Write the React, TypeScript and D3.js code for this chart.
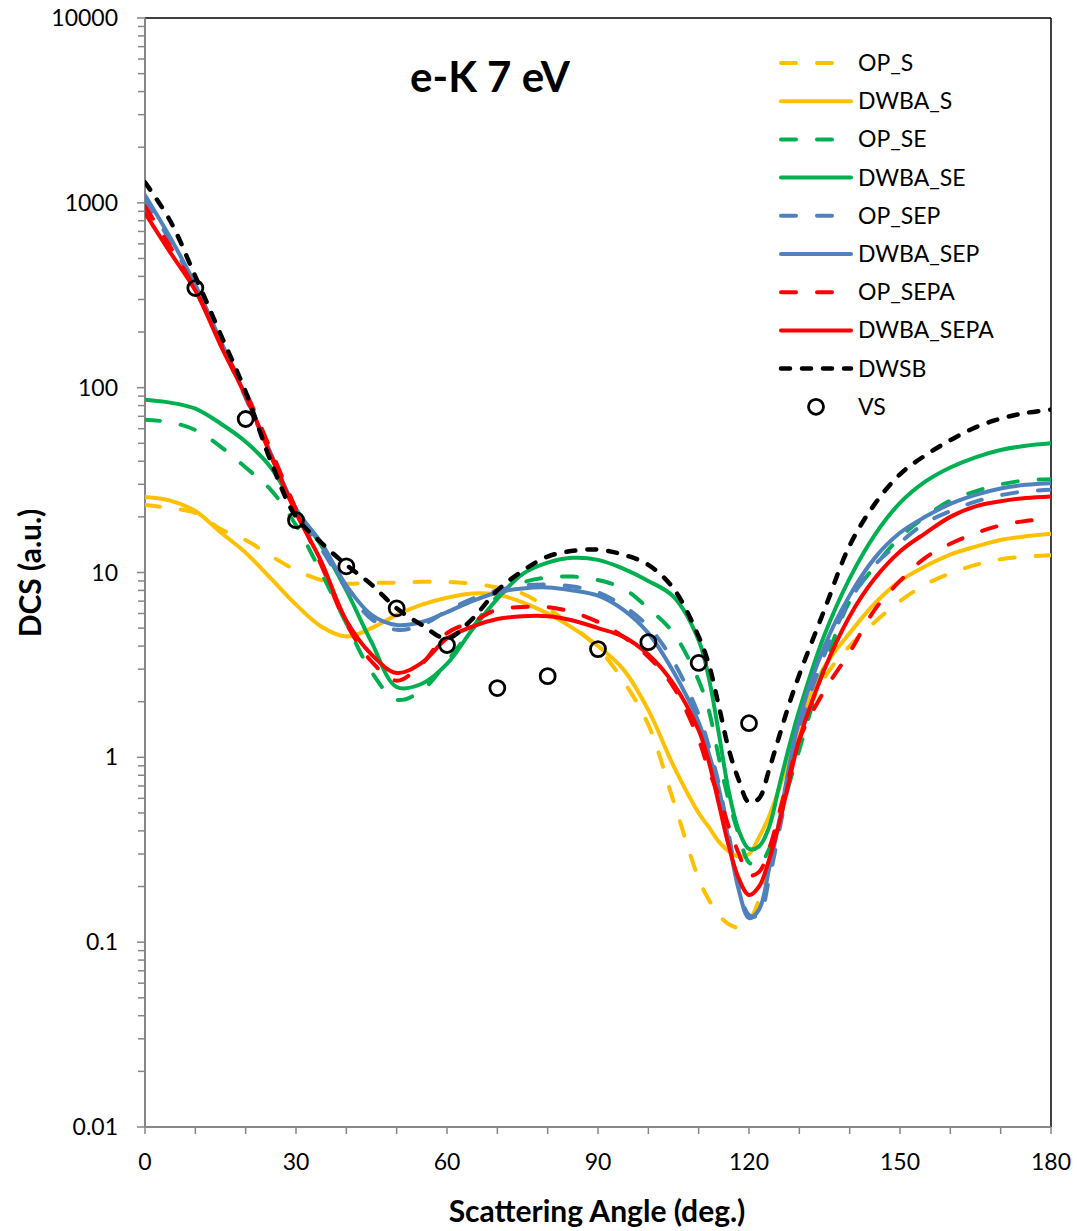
import React from 'react';
import * as d3 from 'd3';

const angles = [0, 5, 10, 15, 20, 25, 30, 35, 40, 45, 50, 55, 60, 65, 70, 75, 80, 85, 90, 95, 100, 105, 110, 112, 114, 116, 118, 120, 122, 124, 126, 128, 130, 135, 140, 145, 150, 155, 160, 165, 170, 175, 180];

const opS = [23.2, 22.3, 21, 17.2, 15, 12.3, 10.3, 9.1, 8.7, 8.8, 8.8, 8.9, 8.9, 8.7, 8.3, 7.7, 6.4, 5.1, 3.9, 2.6, 1.5, 0.58, 0.22, 0.17, 0.14, 0.125, 0.12, 0.13, 0.17, 0.28, 0.5, 0.85, 1.35, 2.7, 4.0, 5.4, 7.0, 8.6, 9.9, 11, 11.8, 12.2, 12.4];
const dwbaS = [25.6, 24.5, 21.5, 16.5, 12.8, 9.3, 6.7, 5.1, 4.5, 5.0, 5.9, 6.7, 7.3, 7.7, 7.6, 6.9, 6.0, 5.0, 4.0, 3.0, 1.8, 0.9, 0.5, 0.42, 0.35, 0.31, 0.29, 0.3, 0.37, 0.48, 0.68, 1.0, 1.5, 3.1, 4.7, 6.8, 9.0, 10.8, 12.5, 13.8, 15.0, 15.7, 16.2];
const opSE = [67, 65, 59, 48, 37, 28, 18, 10, 5.3, 2.9, 2.05, 2.3, 3.3, 5.0, 7.4, 8.8, 9.4, 9.5, 9.1, 8.2, 6.4, 4.7, 2.6, 1.8, 1.0, 0.58, 0.38, 0.27, 0.26, 0.32, 0.45, 0.72, 1.1, 3.1, 7.0, 10.8, 15.5, 20, 24.5, 27.5, 30, 31.5, 32];
const dwbaSE = [86, 83, 77, 64, 51, 37, 22, 14, 8, 4.2, 2.4, 2.5, 3.2, 4.9, 7.2, 9.8, 11.3, 12, 11.7, 10.5, 9, 7.4, 4.3, 2.7, 1.35, 0.65, 0.4, 0.32, 0.33, 0.42, 0.7, 1.15, 1.8, 4.6, 9.3, 16, 23.8, 31, 37, 42, 46, 48.5, 50];
const opSEP = [1050, 620, 350, 175, 88, 43, 21.5, 13.5, 8.2, 5.6, 4.9, 5.2, 6.2, 7.2, 8.0, 8.5, 8.6, 8.4, 7.8, 6.6, 5.1, 3.3, 1.7, 1.15, 0.72, 0.38, 0.2, 0.14, 0.14, 0.22, 0.4, 0.75, 1.4, 3.6, 7, 11, 14.5, 18.5, 21.5, 24.2, 26.2, 27.5, 28];
const dwbaSEP = [1100, 650, 360, 180, 90, 44, 22, 14.5, 8.5, 5.9, 5.2, 5.4, 6.1, 7, 7.8, 8.2, 8.3, 8, 7.5, 6.3, 4.7, 2.9, 1.55, 1.05, 0.68, 0.35, 0.19, 0.135, 0.15, 0.25, 0.45, 0.9, 1.6, 4.0, 7.5, 12, 16.4, 20, 23.5, 26.3, 28.5, 29.8, 30.4];
const opSEPA = [960, 580, 340, 175, 95, 46, 22, 11, 5.3, 3.3, 2.6, 3.2, 4.7, 5.4, 6.3, 6.5, 6.5, 6.1, 5.4, 4.5, 3.5, 2.4, 1.25, 0.85, 0.62, 0.42, 0.3, 0.23, 0.24, 0.32, 0.5, 0.8, 1.25, 2.3, 3.7, 6.3, 9, 12, 14.3, 16.3, 18, 19, 19.5];
const dwbaSEPA = [880, 540, 335, 170, 90, 43, 21, 11.5, 5.5, 3.6, 2.86, 3.25, 4.4, 5.1, 5.6, 5.8, 5.8, 5.5, 5.0, 4.5, 3.6, 2.5, 1.4, 0.95, 0.56, 0.33, 0.22, 0.18, 0.2, 0.28, 0.44, 0.75, 1.25, 3.0, 5.8, 9.3, 13, 16.3, 20, 22.8, 24.3, 25.3, 25.8];
const dwsb = [1290, 800, 400, 195, 95, 40, 20, 14.5, 11, 8.6, 6.4, 5.2, 4.4, 5.6, 8, 10.2, 12.2, 13.1, 13.3, 12.5, 11, 8.2, 4.5, 3.2, 1.9, 1.1, 0.75, 0.57, 0.6, 0.86, 1.3, 1.95, 2.8, 6.3, 14, 23.5, 34, 43, 52, 61, 68, 73, 76];

const vsAngles = [10, 20, 30, 40, 50, 60, 70, 80, 90, 100, 110, 120];
const vsValues = [346, 67.7, 19.2, 10.8, 6.4, 4.05, 2.37, 2.75, 3.85, 4.2, 3.24, 1.53];

const yTicks = [0.01, 0.1, 1, 10, 100, 1000, 10000];
const yTickLabels = ['0.01', '0.1', '1', '10', '100', '1000', '10000'];
const xTicks = [0, 30, 60, 90, 120, 150, 180];
const xMinorTicks = [0, 10, 20, 30, 40, 50, 60, 70, 80, 90, 100, 110, 120, 130, 140, 150, 160, 170, 180];

const seriesNames = ['OP_S', 'DWBA_S', 'OP_SE', 'DWBA_SE', 'OP_SEP', 'DWBA_SEP', 'OP_SEPA', 'DWBA_SEPA', 'DWSB'];
const seriesData = [opS, dwbaS, opSE, dwbaSE, opSEP, dwbaSEP, opSEPA, dwbaSEPA, dwsb];
const seriesColors = ['#FFC000', '#FFC000', '#00B050', '#00B050', '#4F81BD', '#4F81BD', '#FF0000', '#FF0000', '#000000'];
const seriesDash = ['15 21', null, '15 21', null, '15 21', null, '15 21', null, '9 12'];

const FONT = "Lato, 'Open Sans', sans-serif";

export default function App() {
  const W = 1077, H = 1231;
  const left = 145, right = 1051, top = 18, bottom = 1127;
  const x = d3.scaleLinear().domain([0, 180]).range([left, right]);
  const y = d3.scaleLog().domain([0.01, 10000]).range([bottom, top]);
  const line = d3.line<number>()
    .x((_, i) => x(angles[i]))
    .y(d => y(d))
    .curve(d3.curveCatmullRom.alpha(0.5));

  const minor: number[] = [];
  for (let e = -2; e < 4; e++) {
    for (let k = 2; k <= 9; k++) minor.push(k * Math.pow(10, e));
  }

  const legX0 = 781, legX1 = 851, legTextX = 858, legY0 = 63, legDy = 38.2;

  return (
    <div style={{ position: 'absolute', left: 0, top: 0 }}>
      <svg width={W} height={H} style={{ display: 'block', background: '#fff' }}>
        <rect x={0} y={0} width={W} height={H} fill="#fff" />
        <defs>
          <clipPath id="plotclip">
            <rect x={left} y={top} width={right - left} height={bottom - top} />
          </clipPath>
        </defs>
        {/* frame */}
        <line x1={left} x2={right} y1={top} y2={top} stroke="#000" strokeWidth={1.5} />
        <line x1={right} x2={right} y1={top} y2={bottom} stroke="#000" strokeWidth={1.5} />
        {/* y minor ticks */}
        {minor.map((v, i) => (
          <line key={'ym' + i} x1={left - 7} x2={left} y1={y(v)} y2={y(v)} stroke="#868686" strokeWidth={1.5} />
        ))}
        {yTicks.map((v, i) => (
          <g key={'y' + i}>
            <line x1={left - 8} x2={left} y1={y(v)} y2={y(v)} stroke="#868686" strokeWidth={1.5} />
            <text x={118} y={y(v)} dy="0.35em" textAnchor="end" fontFamily={FONT} fontSize={23} fill="#000">{yTickLabels[i]}</text>
          </g>
        ))}
        {xMinorTicks.map((v, i) => (
          <line key={'xm' + i} x1={x(v)} x2={x(v)} y1={bottom} y2={bottom + 7} stroke="#868686" strokeWidth={1.5} />
        ))}
        {xTicks.map((v, i) => (
          <text key={'xt' + i} x={x(v)} y={1170} textAnchor="middle" fontFamily={FONT} fontSize={23} fill="#000">{v}</text>
        ))}
        {/* axes */}
        <line x1={left} x2={left} y1={top} y2={bottom} stroke="#868686" strokeWidth={2} />
        <line x1={left} x2={right} y1={bottom} y2={bottom} stroke="#868686" strokeWidth={2} />

        {/* series */}
        <g clipPath="url(#plotclip)">
          {seriesData.map((d, i) => (
            <path key={'s' + i} d={line(d) || ''} fill="none" stroke={seriesColors[i]} strokeWidth={i === 8 ? 4.5 : 4}
              strokeDasharray={seriesDash[i] || undefined} strokeLinecap="round" strokeLinejoin="round" />
          ))}
          {vsAngles.map((a, i) => (
            <circle key={'vs' + i} cx={x(a)} cy={y(vsValues[i])} r={7.5} fill="none" stroke="#000" strokeWidth={2.8} />
          ))}
        </g>

        {/* title */}
        <text x={490} y={92} textAnchor="middle" fontFamily={FONT} fontWeight="bold" fontSize={42} fill="#000">e-K 7 eV</text>

        {/* legend */}
        {seriesNames.map((n, i) => {
          const ly = legY0 + i * legDy;
          return (
            <g key={'l' + i}>
              <line x1={legX0} x2={legX1} y1={ly} y2={ly} stroke={seriesColors[i]} strokeWidth={i === 8 ? 4.5 : 4}
                strokeDasharray={seriesDash[i] || undefined} strokeLinecap="round" />
              <text x={legTextX} y={ly} dy="0.35em" fontFamily={FONT} fontSize={23} fill="#000">{n}</text>
            </g>
          );
        })}
        <circle cx={816} cy={legY0 + 9 * legDy} r={7.5} fill="none" stroke="#000" strokeWidth={2.8} />
        <text x={legTextX} y={legY0 + 9 * legDy} dy="0.35em" fontFamily={FONT} fontSize={23} fill="#000">VS</text>

        {/* axis titles */}
        <text x={597} y={1222} textAnchor="middle" fontFamily={FONT} fontWeight="bold" fontSize={30} fill="#000">Scattering Angle (deg.)</text>
        <text transform={`translate(41, 573) rotate(-90)`} textAnchor="middle" fontFamily={FONT} fontWeight="bold" fontSize={30} fill="#000">DCS (a.u.)</text>
      </svg>
    </div>
  );
}
